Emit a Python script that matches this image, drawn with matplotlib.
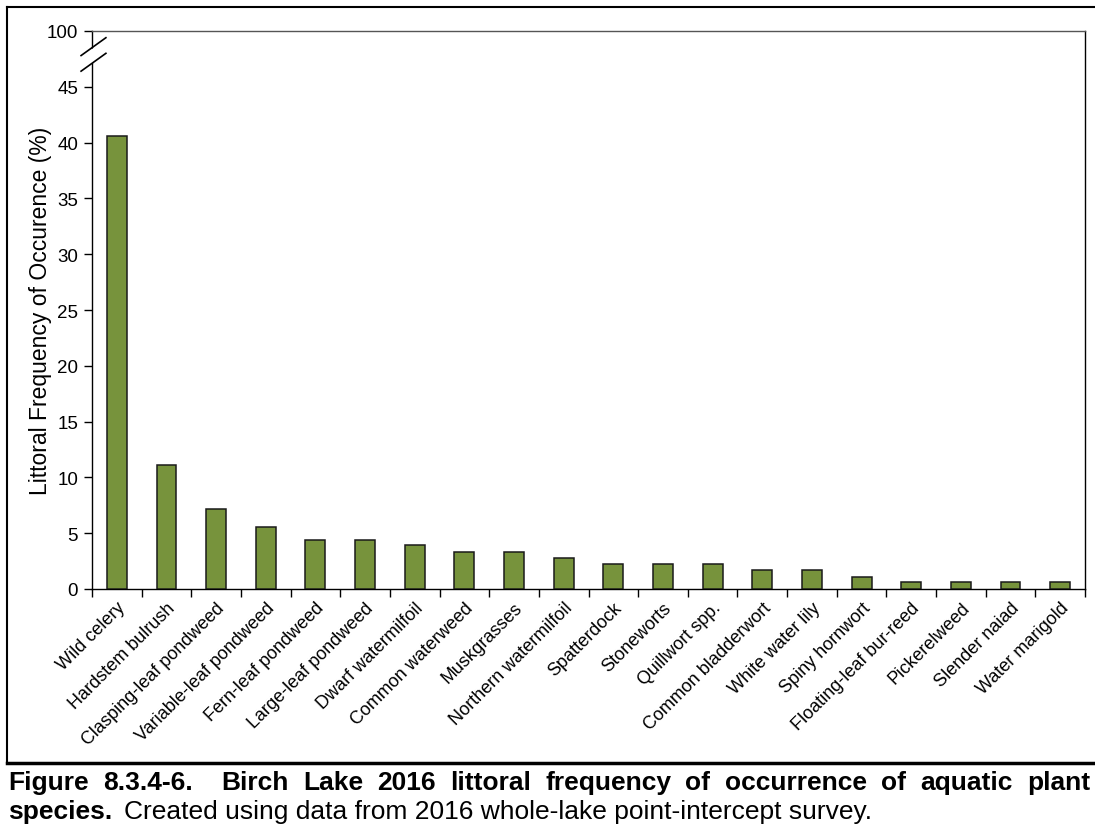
import numpy as np
import matplotlib
matplotlib.use('Agg')
import matplotlib.pyplot as plt
from matplotlib.lines import Line2D
from matplotlib.patches import Polygon

plt.rcParams['font.family'] = ['Liberation Sans', 'DejaVu Sans']

species = ['Wild celery', 'Hardstem bulrush', 'Clasping-leaf pondweed',
           'Variable-leaf pondweed', 'Fern-leaf pondweed', 'Large-leaf pondweed',
           'Dwarf watermilfoil', 'Common waterweed', 'Muskgrasses',
           'Northern watermilfoil', 'Spatterdock', 'Stoneworts', 'Quillwort spp.',
           'Common bladderwort', 'White water lily', 'Spiny hornwort',
           'Floating-leaf bur-reed', 'Pickerelweed', 'Slender naiad', 'Water marigold']
freq = [40.6, 11.1, 7.2, 5.6, 4.4, 4.4, 3.9, 3.3, 3.3, 2.8,
        2.2, 2.2, 2.2, 1.7, 1.7, 1.1, 0.6, 0.6, 0.6, 0.6]
ytick_vals = [0, 5, 10, 15, 20, 25, 30, 35, 40, 45, 50]
ytick_labels = ['0', '5', '10', '15', '20', '25', '30', '35', '40', '45', '100']

W, H = 1095, 829
fig = plt.figure(figsize=(W / 100, H / 100), dpi=100)
ax = fig.add_axes([92 / W, (H - 590) / H, (1085 - 92) / W, (590 - 32) / H])

x = np.arange(len(species))
ax.bar(x, freq, width=0.4, color='#77933C', edgecolor='#1a1a1a', linewidth=1.1, zorder=3)

ax.set_xlim(-0.5, len(species) - 0.5)
ax.set_ylim(0, 50)
ax.set_yticks(ytick_vals)
ax.set_yticklabels(ytick_labels, fontsize=13.5)
ax.set_xticks(x)
ax.set_xticklabels(species, rotation=45, ha='right', va='top',
                   rotation_mode='anchor', fontsize=13)
ax.tick_params(axis='x', length=0, pad=7)
ax.set_xticks(np.arange(-0.5, len(species)), minor=True)
ax.tick_params(axis='x', which='minor', direction='out', length=6, width=1, color='black')
ax.tick_params(axis='y', direction='out', length=6, width=1, pad=4)
ax.set_ylabel('Littoral Frequency of Occurence (%)', fontsize=16.5, labelpad=-4)
for s in ax.spines.values():
    s.set_linewidth(1.0)
ax.spines['top'].set_color('#555555')

# axis break marks on the left spine
trans = ax.get_yaxis_transform()
gap = Polygon([[-0.012, 46.6], [0.012, 47.6], [0.012, 48.9], [-0.012, 47.9]],
              closed=True, facecolor='white', edgecolor='none', transform=trans,
              clip_on=False, zorder=5)
ax.add_patch(gap)
for y0 in (46.4, 47.8):
    ax.add_line(Line2D([-0.011, 0.014], [y0, y0 + 1.6], color='black', lw=1.2,
                       transform=trans, clip_on=False, zorder=6))

# outer frame
def fx(px):
    return px / W

def fy(py):
    return 1 - py / H

fig.add_artist(Line2D([fx(7), fx(7)], [fy(8), fy(764)], color='black', lw=1.5))
fig.add_artist(Line2D([fx(7), fx(1095)], [fy(8), fy(8)], color='black', lw=1.5))
fig.add_artist(Line2D([fx(7), fx(1095)], [fy(764), fy(764)], color='black', lw=2.5))

# caption, first line justified
fig.canvas.draw()
renderer = fig.canvas.get_renderer()
cap_size = 19
line1 = 'Figure 8.3.4-6.  Birch Lake 2016 littoral frequency of occurrence of aquatic plant'.split()
words = [fig.text(0, fy(783), w, fontsize=cap_size, fontweight='bold', va='center', ha='left')
         for w in line1]
widths = [t.get_window_extent(renderer).width for t in words]
left, right = 8, 1090
gaps = len(words) - 1
total_gap = (right - left) - sum(widths)
weights = [2 if i == 1 else 1 for i in range(gaps)]
unit = total_gap / sum(weights)
xpos = left
for i, t in enumerate(words):
    t.set_x(fx(xpos))
    if i < gaps:
        xpos += widths[i] + unit * weights[i]

t2 = fig.text(fx(8), fy(812), 'species.', fontsize=cap_size, fontweight='bold', va='center', ha='left')
w2 = t2.get_window_extent(renderer).width
fig.text(fx(8 + w2 + 12), fy(812), 'Created using data from 2016 whole-lake point-intercept survey.',
         fontsize=cap_size, va='center', ha='left')

fig.savefig('out.png', dpi=100)
